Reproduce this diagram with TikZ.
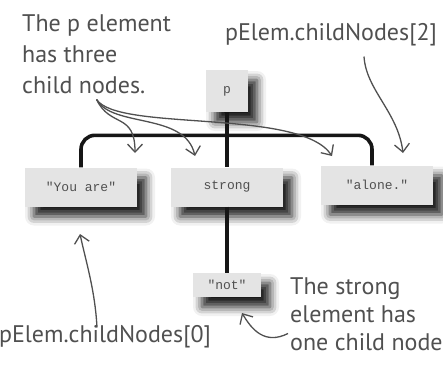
\documentclass[tikz,border=0pt]{standalone}
\usepackage{fontspec}
\setsansfont{PT Sans}
\setmonofont{Liberation Mono}
\usetikzlibrary{arrows.meta,positioning,shadows.blur}
\definecolor{boxgray}{RGB}{228,228,228}
\definecolor{inkgray}{RGB}{80,80,80}
\definecolor{bargray}{RGB}{22,22,22}

\begin{document}
\begin{tikzpicture}[x=1pt, y=-1pt, >={Straight Barb[length=8pt,width=15pt]}]
  \tikzset{elem/.style={fill=boxgray, minimum width=112pt, minimum height=39pt, font=\ttfamily\fontsize{13}{13}\selectfont, text=inkgray, blur shadow={shadow xshift=9pt, shadow yshift=-10pt, shadow blur radius=9pt, shadow opacity=90}},note/.style={font=\sffamily\fontsize{24}{31}\selectfont, text=inkgray, align=left, inner sep=0pt},ink/.style={->, draw=inkgray, line width=1.3pt},bar/.style={line width=3.6pt, draw=bargray}}
  \useasboundingbox (0,0) rectangle (443,369);
  \node[elem, minimum width=42pt, minimum height=42pt] (p) at (227,91) {p};
  \node[elem] (you) at (81,187) {"You are"};
  \node[elem] (strong) at (227,187) {strong};
  \node[elem] (alone) at (377,185) {"alone."};
  \node[elem, minimum width=68pt, minimum height=24pt] (notbox) at (227,285) {"not"};
  \node[note, anchor=north west] (note1) at (22,14) {The p element\\has three\\child nodes.};
  \node[note] (idx2) at (331,35) {pElem.childNodes[2]};
  \node[note] (idx0) at (105,337) {pElem.childNodes[0]};
  \node[note, font=\sffamily\fontsize{24}{28}\selectfont, anchor=north west] (note2) at (290,277) {The strong\\element has\\one child node};
  \coordinate (t1) at (135,153);
  \coordinate (t2) at (195,156);
  \coordinate (t3) at (332,156);
  \coordinate (t4) at (403,153);
  \coordinate (t5) at (80,234);
  \coordinate (t6) at (242,313);
  \draw[bar] (p) -- (strong);
  \draw[bar] (strong) -- (notbox);
  \draw[bar, rounded corners=14pt] (you.north) |- ([xshift=-5pt, yshift=30pt]alone.north) -- ([xshift=-5pt]alone.north);
  \draw[ink] ([yshift=-6pt]note1.south) .. controls (110,128) and (135,112) .. (t1);
  \draw[ink] ([yshift=-6pt]note1.south) .. controls (112,128) and (185,112) .. (t2);
  \draw[ink] ([yshift=-6pt]note1.south) .. controls (118,132) and (300,108) .. (t3);
  \draw[ink] ([xshift=33pt, yshift=-10pt]idx2.south) .. controls (366,90) and (398,112) .. (t4);
  \draw[ink] ([xshift=-8pt, yshift=-2pt]idx0.north) .. controls (95,290) and (86,262) .. (t5);
  \draw[ink] ([xshift=-2pt, yshift=17pt]note2.south west) .. controls (265,345) and (252,330) .. (t6);
\end{tikzpicture}
\end{document}
